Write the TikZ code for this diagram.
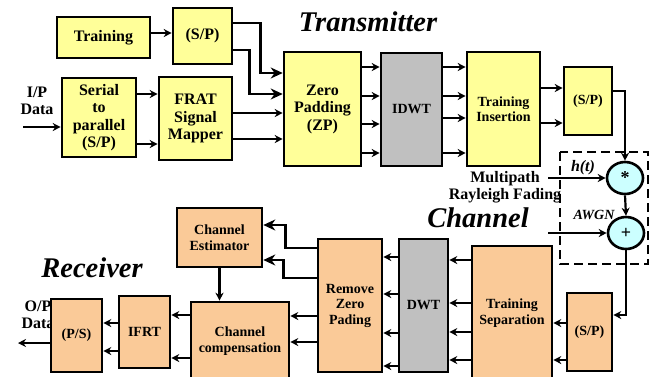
\documentclass[tikz,border=0pt]{standalone}
\usepackage{fontspec}
\setmainfont{Liberation Serif}
\usetikzlibrary{arrows.meta,shapes.geometric}
\definecolor{txfill}{RGB}{255,255,153}
\definecolor{rxfill}{RGB}{250,202,152}
\definecolor{dwtgray}{RGB}{192,192,192}
\definecolor{chfill}{RGB}{204,255,255}

\begin{document}
\begin{tikzpicture}[x=1pt, y=-1pt, >={Stealth[length=8pt,width=8pt]},
    blk/.style={draw, line width=2.6pt, align=center, inner sep=1pt, font=\fontsize{14}{15.5}\selectfont\bfseries},
    bigtxt/.style={font=\fontsize{16}{17.5}\selectfont\bfseries},
    txblk/.style={blk, fill=txfill},
    rxblk/.style={blk, fill=rxfill},
    grayblk/.style={blk, fill=dwtgray},
    opnode/.style={draw, ellipse, line width=2.6pt, fill=chfill, minimum width=36pt, minimum height=32pt, inner sep=0pt, font=\fontsize{18}{18}\selectfont\bfseries},
    wire/.style={->, line width=2.2pt},
    bigwire/.style={-{Stealth[length=12pt,width=11pt]}, line width=2.6pt},
    title/.style={font=\fontsize{28.5}{28.5}\selectfont\bfseries\itshape}]
    \clip (0,0) rectangle (652,376);

    % Transmitter blocks
    \node[txblk, bigtxt, minimum width=93, minimum height=41] (trn) at (103.5,37.5) {Training};
    \node[txblk, bigtxt, minimum width=59, minimum height=56] (spa) at (202.5,36) {(S/P)};
    \node[txblk, bigtxt, minimum width=74, minimum height=79] (ser) at (99,117.5) {Serial\\to\\parallel\\(S/P)};
    \node[txblk, bigtxt, minimum width=73, minimum height=83] (frat) at (195.5,118.5) {FRAT\\Signal\\Mapper};
    \node[txblk, bigtxt, minimum width=77, minimum height=114] (zp) at (322.5,109) {Zero\\Padding\\(ZP)};
    \node[grayblk, minimum width=61, minimum height=113] (idwt) at (411.5,109.5) {IDWT};
    \node[txblk, minimum width=73, minimum height=114] (tin) at (503.5,109) {Training\\Insertion};
    \node[txblk, minimum width=48, minimum height=68] (spb) at (588,101) {(S/P)};
    \node[title] (txtitle) at (368,22) {Transmitter};

    % Input
    \node[bigtxt, align=center] (ipdata) at (37,101) {I/P\\Data};
    \coordinate (ipin) at (23,127);
    \draw[wire] (ipin) -- (ipin -| ser.west);

    % Transmitter connections
    \draw[wire] (trn.east |- 0,33) -- (spa.west |- 0,33);
    \draw[bigwire] (spa.east |- 0,23) -- ++(27,0) |- (zp.west |- 0,73);
    \draw[bigwire] (spa.east |- 0,50) -- ++(16,0) |- (zp.west |- 0,94);
    \foreach \y in {94,144}
        \draw[wire] (ser.east |- 0,\y) -- (frat.west |- 0,\y);
    \foreach \y in {113,139}
        \draw[wire] (frat.east |- 0,\y) -- (zp.west |- 0,\y);
    \foreach \y in {67,96,124,153}
        \draw[wire] (zp.east |- 0,\y) -- (idwt.west |- 0,\y);
    \foreach \y in {67,96,118,153}
        \draw[wire] (idwt.east |- 0,\y) -- (tin.west |- 0,\y);
    \foreach \y in {88,123}
        \draw[wire] (tin.east |- 0,\y) -- (spb.west |- 0,\y);

    % Channel
    \draw[dashed, line width=2.6pt, dash pattern=on 9pt off 5pt] (560,152) rectangle (648,264);
    \node[opnode] (mul) at (625,178) {*};
    \node[opnode] (add) at (626,233) {+};
    \node[font=\fontsize{16}{16}\selectfont\bfseries\itshape] (hlbl) at (583,168) {h(t)};
    \node[font=\fontsize{14}{14}\selectfont\bfseries\itshape] (awgnlbl) at (594,215) {AWGN};
    \node[bigtxt, align=center] (fadlbl) at (505,187) {Multipath\\Rayleigh Fading};
    \node[title] (chtitle) at (478,218) {Channel};
    \coordinate (mpin) at (548,178);
    \coordinate (nsin) at (548,233);
    \draw[wire] (spb.east |- 0,91) -| (mul.north);
    \draw[wire] (mpin) -- (mpin -| mul.west);
    \draw[wire] (mul.south) -- (add.north);
    \draw[wire] (nsin) -- (nsin -| add.west);

    % Receiver blocks
    \node[rxblk, minimum width=45, minimum height=78] (spc) at (589.5,332) {(S/P)};
    \node[rxblk, minimum width=80, minimum height=134] (tsep) at (512,313) {Training\\Separation};
    \node[grayblk, minimum width=49, minimum height=133] (dwt) at (423.5,305.5) {DWT};
    \node[rxblk, minimum width=64, minimum height=133] (rzp) at (350,305.5) {Remove\\Zero\\Pading};
    \node[rxblk, minimum width=85, minimum height=59] (ce) at (219.5,237.5) {Channel\\Estimator};
    \node[rxblk, minimum width=98, minimum height=78] (cc) at (240,341) {Channel\\compensation};
    \node[rxblk, minimum width=51, minimum height=72] (ifrt) at (144.5,332) {IFRT};
    \node[bigtxt, align=center] (opdata) at (38,315) {O/P\\Data};
    \node[rxblk, minimum width=51, minimum height=73] (ps) at (76.5,335.5) {(P/S)};
    \node[title] (rxtitle) at (92,268) {Receiver};

    % Receiver connections
    \draw[wire] (add.south) |- (spc.east |- 0,315);
    \foreach \y in {323,360}
        \draw[wire] (spc.west |- 0,\y) -- (tsep.east |- 0,\y);
    \foreach \y in {260,303,332,360}
        \draw[wire] (tsep.west |- 0,\y) -- (dwt.east |- 0,\y);
    \foreach \y in {257,294,333,366}
        \draw[wire] (dwt.west |- 0,\y) -- (rzp.east |- 0,\y);
    \draw[bigwire] (rzp.west |- 0,248) -- ++(-31,0) |- (ce.east |- 0,225);
    \draw[bigwire] (rzp.west |- 0,278) -- ++(-33,0) |- (ce.east |- 0,260);
    \draw[wire] (ce.south) -- (ce.south |- cc.north);
    \foreach \y in {316,342}
        \draw[wire] (rzp.west |- 0,\y) -- (cc.east |- 0,\y);
    \foreach \y in {315,358}
        \draw[wire] (cc.west |- 0,\y) -- (ifrt.east |- 0,\y);
    \foreach \y in {323,351}
        \draw[wire] (ifrt.west |- 0,\y) -- (ps.east |- 0,\y);
    \coordinate (opout) at (18,343);
    \draw[wire] (ps.west |- opout) -- (opout);
\end{tikzpicture}
\end{document}
